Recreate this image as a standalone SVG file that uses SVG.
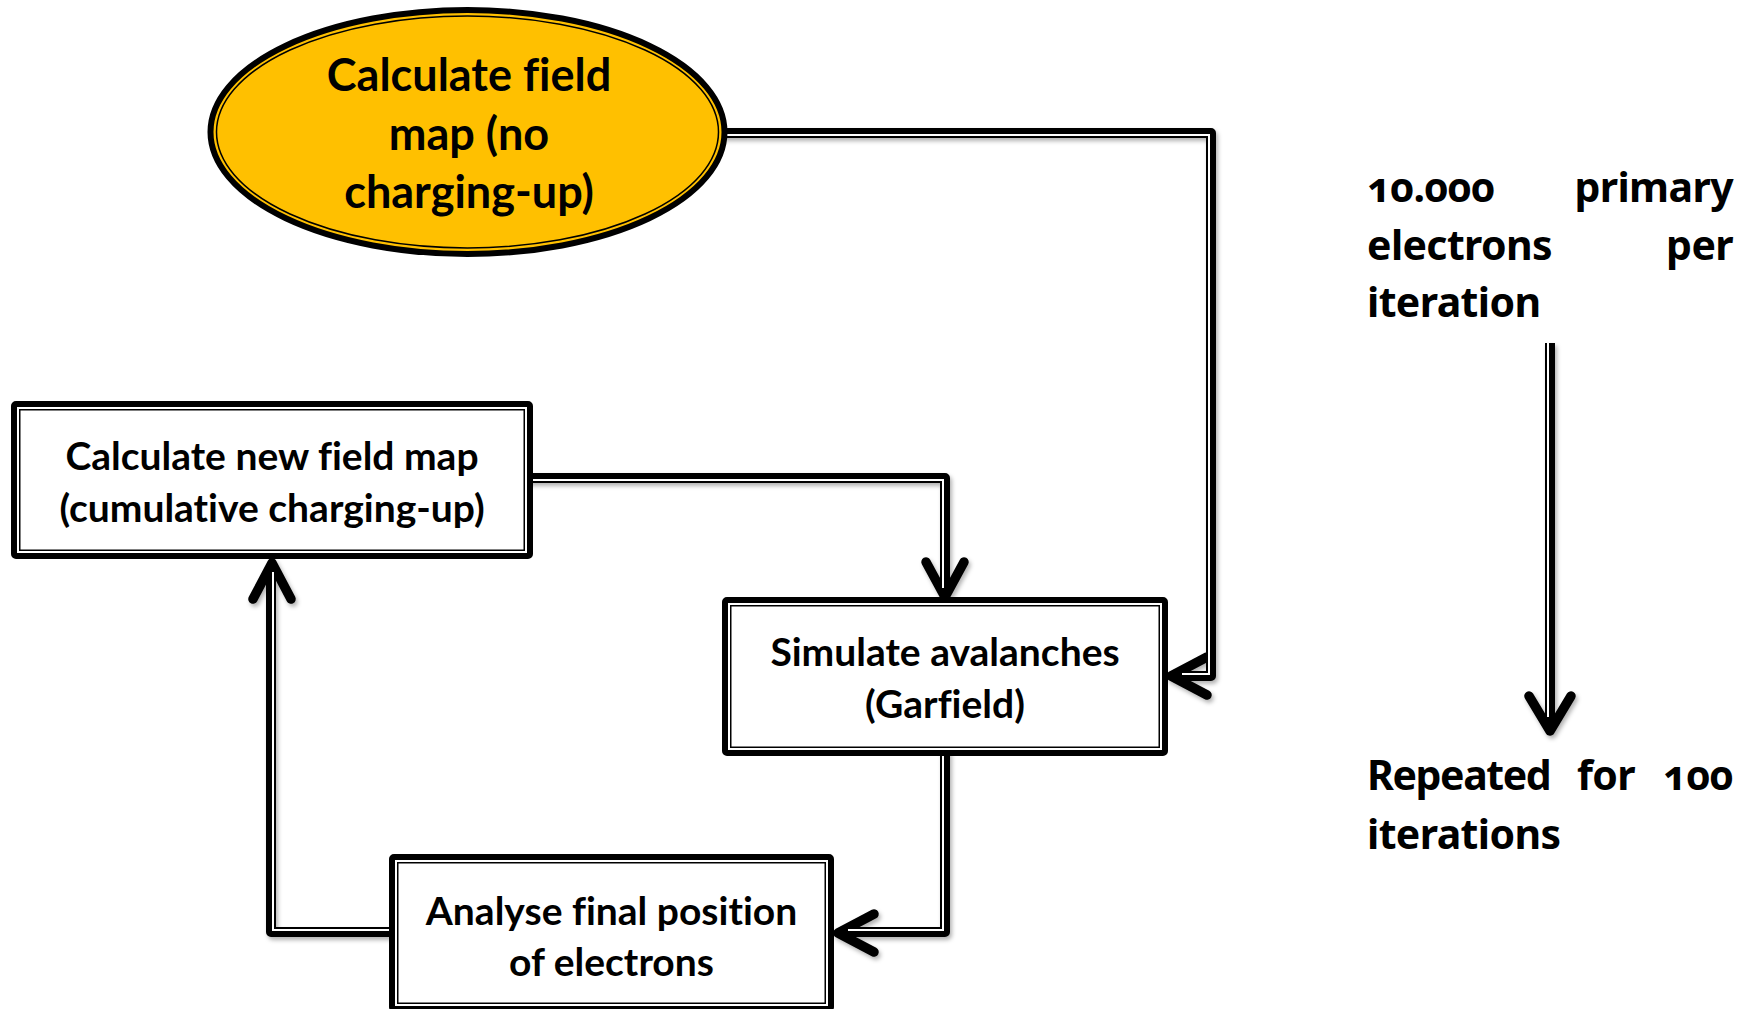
<svg xmlns="http://www.w3.org/2000/svg" width="1750" height="1009" viewBox="0 0 1750 1009">
<defs>
<filter id="sh" x="-10%" y="-10%" width="130%" height="130%">
<feDropShadow dx="2" dy="3" stdDeviation="2" flood-color="#000" flood-opacity="0.3"/>
</filter>
</defs>
<style>
.bg{fill:#fff}
.line{fill:none;stroke:#000;stroke-width:10;stroke-linejoin:round}
.gap{fill:none;stroke:#fff;stroke-width:2;stroke-linejoin:miter}
.head{fill:none;stroke:#000;stroke-width:9.5;stroke-linecap:round;stroke-linejoin:round}
.outer{fill:#fff;stroke:#000;stroke-width:6}
.inner{fill:none;stroke:#000;stroke-width:1.5}
.ell-outer{fill:#FFC000;stroke:#000;stroke-width:6}
.ell-inner{fill:none;stroke:#000;stroke-width:1.5}
text{font-variant-ligatures:none;font-feature-settings:"liga" 0,"clig" 0}
.t{font-family:Lato,"Liberation Sans",sans-serif;font-weight:bold;fill:#000;text-anchor:middle}
.box{font-size:39px}
.ell{font-size:45px}
.note{font-family:"Noto Sans",Lato,sans-serif;font-weight:bold;font-size:41px;letter-spacing:-0.6px;fill:#000;font-variant-numeric:oldstyle-nums;font-feature-settings:"onum" 1,"liga" 0}
.tight{letter-spacing:-1.4px}
</style>
<rect class="bg" x="0" y="0" width="1750" height="1009"/>
<g id="connectors">
<g filter="url(#sh)">
<path class="line" d="M700,133 H1211 V676 H1178"/>
<path class="line" d="M520,478 H945 V590"/>
<path class="line" d="M945,750 V932 H845"/>
<path class="line" d="M400,932 H271 V570"/>
<path class="line" d="M1550,343 V725"/>
<path class="head" d="M1207,657 L1171,676 L1207,695"/>
<path class="head" d="M926,562 L945,597 L964,562"/>
<path class="head" d="M874,914 L838,933 L874,952"/>
<path class="head" d="M253,599 L272,563 L291,599"/>
<path class="head" d="M1529,696 L1550,731 L1571,696"/>
</g>
<path class="gap" d="M700,135 H1209 V674 H1182"/>
<path class="gap" d="M520,480 H943 V588"/>
<path class="gap" d="M943,750 V930 H848"/>
<path class="gap" d="M400,930 H273 V572"/>
<path class="gap" d="M1548,343 V717"/>
</g>
<g id="node-start">
<ellipse class="ell-outer" cx="467.5" cy="132" rx="257" ry="122"/>
<ellipse class="ell-inner" cx="467.5" cy="132" rx="251" ry="116"/>
<text class="t ell" x="469" y="91">Calculate field</text>
<text class="t ell" x="469" y="150">map (no</text>
<text class="t ell" x="469" y="208">charging-up)</text>
</g>
<g id="node-newfield">
<rect class="outer" x="14" y="404" width="516" height="152" rx="2"/>
<rect class="inner" x="19.75" y="409.75" width="504.5" height="140.5"/>
<text class="t box" x="272" y="470">Calculate new field map</text>
<text class="t box" x="272" y="522">(cumulative charging-up)</text>
</g>
<g id="node-simulate">
<rect class="outer" x="725" y="600" width="440" height="153" rx="2"/>
<rect class="inner" x="730.75" y="605.75" width="428.5" height="141.5"/>
<text class="t box" x="945" y="666">Simulate avalanches</text>
<text class="t box" x="945" y="718">(Garfield)</text>
</g>
<g id="node-analyse">
<rect class="outer" x="392" y="857" width="439" height="152" rx="2"/>
<rect class="inner" x="397.75" y="862.75" width="427.5" height="140.5"/>
<text class="t box" x="611.5" y="925">Analyse final position</text>
<text class="t box" x="611.5" y="976">of electrons</text>
</g>
<g id="note-top">
<text class="note" x="1367" y="202">10.000</text>
<text class="note" x="1733" y="202" text-anchor="end">primary</text>
<text class="note" x="1367" y="260">electrons</text>
<text class="note" x="1733" y="260" text-anchor="end">per</text>
<text class="note" x="1367" y="317">iteration</text>
</g>
<g id="note-bottom">
<text class="note tight" x="1367" y="790">Repeated</text>
<text class="note" x="1577" y="790">for</text>
<text class="note" x="1733" y="790" text-anchor="end">100</text>
<text class="note" x="1367" y="849">iterations</text>
</g>
</svg>
